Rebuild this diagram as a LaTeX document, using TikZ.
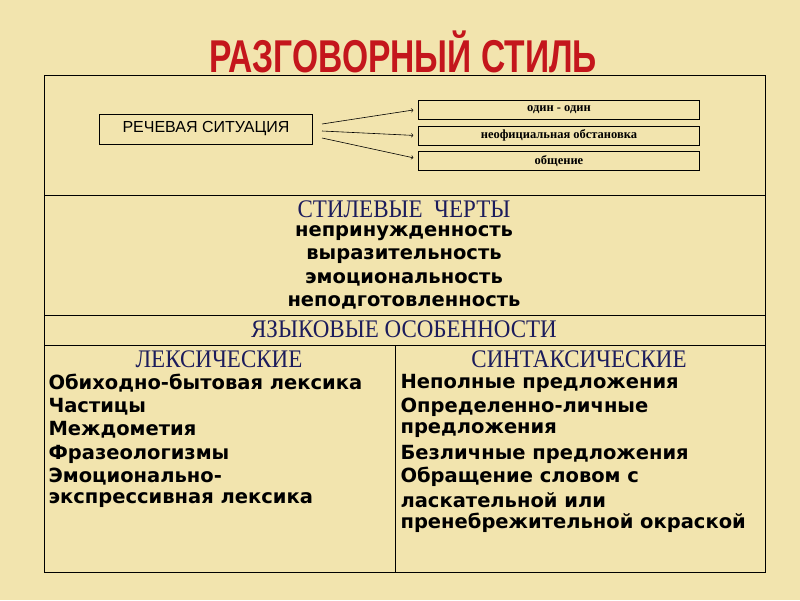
\documentclass[tikz,border=0pt]{standalone}
\usepackage{fontspec}
\setmainfont{Liberation Serif}
\newfontfamily\boldsans{DejaVu Sans}
\newfontfamily\titlefont{Liberation Sans}
\usetikzlibrary{positioning}
\definecolor{bgpaper}{HTML}{F2E4AE}
\definecolor{titlered}{HTML}{C4161C}
\definecolor{headnavy}{HTML}{1C1C5C}
\begin{document}
\begin{tikzpicture}[x=1pt, y=-1pt, >=to,
  cell/.style={draw, line width=0.8pt},
  smallbox/.style={draw, minimum width=281pt, minimum height=19pt, inner sep=0pt, font=\bfseries\fontsize{12.5}{13}\selectfont},
  sitbox/.style={draw, minimum width=213pt, minimum height=30pt, inner sep=0pt, font=\titlefont\fontsize{16}{17}\selectfont},
  head/.style={text=headnavy, font=\fontsize{23}{24}\selectfont, yscale=1.1},
  trait/.style={font=\boldsans\bfseries\fontsize{19.5}{20}\selectfont},
  item/.style={anchor=west, font=\boldsans\bfseries\fontsize{19.5}{20}\selectfont}]
\fill[bgpaper] (0,0) rectangle (800,600);
\useasboundingbox (0,0) rectangle (800,600);
% title
\node (title) at (403,52) {\titlefont\bfseries\color{titlered}\fontsize{46}{46}\selectfont\scalebox{0.73}[1]{РАЗГОВОРНЫЙ СТИЛЬ}};
% table
\draw[cell] (44,75) rectangle (765,572);
\draw[cell] (44,195) -- (765,195);
\draw[cell] (44,315) -- (765,315);
\draw[cell] (44,345) -- (765,345);
\draw[cell] (395,345) -- (395,572);
% speech situation
\node[sitbox] (sit) at (206,129) {РЕЧЕВАЯ СИТУАЦИЯ};
\node[smallbox] (one) at (559,110) {один - один};
\node[smallbox] (informal) [below = 6pt of one] {неофициальная обстановка};
\node[smallbox] (talk) [below = 6pt of informal] {общение};
\coordinate (s1) at (322,124);
\coordinate (s2) at (322,131);
\coordinate (s3) at (322,138);
\draw[->, semithick] (s1) -- ([xshift=-5pt]one.west);
\draw[->, semithick] (s2) -- ([xshift=-5pt]informal.west);
\draw[->, semithick] (s3) -- ([xshift=-5pt,yshift=3pt]talk.west);
% style traits
\node[head] (traits) at (404,209) {СТИЛЕВЫЕ\ \ ЧЕРТЫ};
\node[trait] (t1) at (404,233) {непринужденность};
\node[trait] (t2) at (404,256) {выразительность};
\node[trait] (t3) at (404,279) {эмоциональность};
\node[trait] (t4) at (404,302) {неподготовленность};
\node[head] (lang) at (404,329) {ЯЗЫКОВЫЕ ОСОБЕННОСТИ};
% lexical
\node[head] (lex) at (219,359) {ЛЕКСИЧЕСКИЕ};
\node[item] (l1) at (45,383) {Обиходно-бытовая лексика};
\node[item] (l2) at (45,407) {Частицы};
\node[item] (l3) at (45,430) {Междометия};
\node[item] (l4) at (45,454) {Фразеологизмы};
\node[item] (l5) at (45,477) {Эмоционально-};
\node[item] (l6) at (45,500) {экспрессивная лексика};
% syntactic
\node[head] (syn) at (579,359) {СИНТАКСИЧЕСКИЕ};
\node[item] (r1) at (397,383) {Неполные предложения};
\node[item] (r2) at (397,407) {Определенно-личные};
\node[item] (r3) at (397,430) {предложения};
\node[item] (r4) at (397,454) {Безличные предложения};
\node[item] (r5) at (397,477) {Обращение словом с};
\node[item] (r6) at (397,500) {ласкательной или};
\node[item] (r7) at (397,523) {пренебрежительной окраской};
\end{tikzpicture}
\end{document}
